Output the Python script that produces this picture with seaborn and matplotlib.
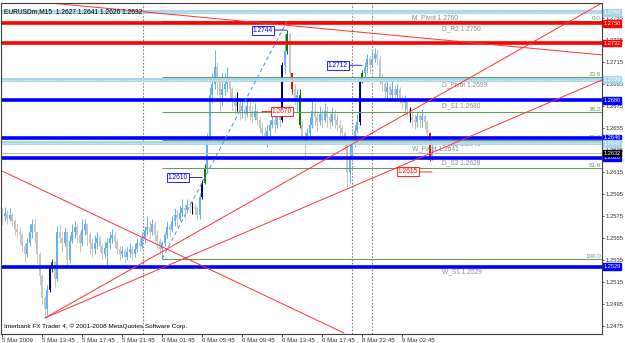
import matplotlib
matplotlib.use("Agg")
import matplotlib.pyplot as plt
import seaborn as sns
import pandas as pd

# ---------------- data (prices in pips above 1.2400) ----------------
first_open = 176
closes = [175,178,172,176,170,163,160,158,148,140,
          150,160,168,160,140,120,100,90,108,128,
          133,118,160,155,150,160,135,152,160,165,
          158,150,162,168,158,150,145,150,155,148,
          140,146,150,155,158,152,145,140,143,138,
          142,145,140,145,150,148,155,162,165,160,
          168,158,152,145,150,158,165,162,170,176,
          172,178,182,180,185,184,183,182,176,192,
          205,218,245,285,295,310,300,285,290,295,
          300,290,280,275,278,270,272,268,275,270,
          265,270,262,255,250,248,252,258,262,258,
          265,262,312,325,340,305,290,282,285,258,
          245,242,250,258,270,265,260,268,262,270,
          265,260,268,262,258,255,250,240,215,228,
          240,252,260,298,305,310,318,312,318,322,
          318,300,295,288,292,285,290,285,290,282,
          278,280,272,265,262,260,266,262,266,260,
          250,227,232]
highs = [182,183,180,182,178,172,168,165,160,150,
         155,168,172,172,160,142,122,102,112,130,
         136,134,166,168,160,165,160,158,168,170,
         168,160,172,172,168,160,155,158,160,158,
         150,152,155,160,163,160,155,148,148,146,
         147,150,148,150,155,156,160,166,175,170,
         172,170,162,155,152,160,170,168,175,182,
         180,184,190,186,190,189,188,186,184,196,
         208,222,250,292,305,326,315,300,305,305,
         310,302,292,285,288,282,280,276,282,280,
         275,278,272,265,260,256,258,262,270,268,
         272,270,315,340,344,342,305,295,290,290,
         262,252,255,265,282,278,270,275,272,278,
         275,270,274,272,268,262,258,252,242,240,
         248,258,268,300,308,315,322,320,325,328,
         326,320,305,300,298,296,298,294,295,292,
         285,285,282,274,270,268,270,268,272,268,
         262,250,241]
lows = [168,170,168,170,166,158,154,150,142,133,
        138,148,155,150,132,112,95,82,85,106,
        124,110,116,150,142,148,128,132,150,155,
        150,142,148,158,148,140,138,140,145,142,
        135,138,128,145,150,146,140,135,137,132,
        135,138,136,138,142,143,146,150,158,155,
        158,150,145,140,136,148,155,156,160,166,
        165,170,175,172,178,178,177,176,172,172,
        190,204,216,240,278,290,285,270,275,285,
        288,280,270,268,270,262,264,262,265,262,
        260,262,258,250,245,240,238,245,255,250,
        255,256,260,305,322,300,286,276,270,255,
        240,226,240,248,255,258,252,258,255,260,
        256,254,257,255,252,248,244,235,200,205,
        225,238,250,258,296,300,305,305,310,315,
        312,295,288,282,282,280,282,280,282,278,
        272,270,266,260,256,254,256,255,256,254,
        246,225,226]

navy_bars = [19, 80, 112, 143]
green_bars = [20, 81, 114, 119, 144]
red_bars = [116, 171]
black_bars = [76, 94, 163]

x_tick_bars = [0, 16, 32, 48, 64, 80, 96, 112, 128, 144, 160]
x_tick_labels = ["5 Mar 2009", "5 Mar 13:45", "5 Mar 17:45", "5 Mar 21:45",
                 "6 Mar 01:45", "6 Mar 05:45", "6 Mar 09:45", "6 Mar 13:45",
                 "6 Mar 17:45", "8 Mar 22:45", "9 Mar 02:45"]
y_ticks = [1.2475, 1.2495, 1.2515, 1.2535, 1.2555, 1.2575, 1.2595, 1.2615,
           1.2635, 1.2655, 1.2675, 1.2695, 1.2715, 1.2735, 1.2755]
separators = [56.5, 140, 148]

level_names = ["M_Pivot", "D_R2", "", "D_Pivot", "D_S1", "D_S2", "W_Pivot", "D_S3", "W_S1"]
level_prices = [1.2760, 1.2750, 1.2732, 1.2699, 1.2680, 1.2646, 1.2641, 1.2628, 1.2529]
level_kinds = ["pivot", "res", "res", "pivot", "sup", "sup", "pivot", "sup", "sup"]
level_label_bar = [164, 176, 176, 176, 176, 176, 164, 176, 176]

fib_levels = [0.0, 23.6, 38.2, 50.0, 61.8, 100.0]
fib_top = 1.2752
fib_start_bar = 64

# red trend lines: (bar0, price0, bar1, price1)
trend_lines = [(19.2, 1.27686, 240, 1.27214),
               (-0.8, 1.26168, 136.8, 1.24686),
               (17.2, 1.24823, 240, 1.27686),
               (17.2, 1.24823, 240, 1.26986)]
dash_line = (64, 114)

mark_bars = [114, 144, 104, 80, 172]
mark_prices = [1.2744, 1.2712, 1.2670, 1.2610, 1.2615]
mark_colors = ["#0000FF", "#0000FF", "#FF0000", "#0000FF", "#FF0000"]
mark_side = ["left", "left", "right", "left", "left"]

bid_price = 1.2632
title = "EURUSDm,M15  1.2627 1.2641 1.2626 1.2632"
footer = "Interbank FX Trader 4, \u00a9 2001-2008 MetaQuotes Software Corp."

# ---------------- build frame ----------------
n = len(closes)
opens = [first_open] + closes[:-1]
df = pd.DataFrame({"bar": range(n),
                   "open": [1.24 + v / 10000 for v in opens],
                   "high": [1.24 + v / 10000 for v in highs],
                   "low": [1.24 + v / 10000 for v in lows],
                   "close": [1.24 + v / 10000 for v in closes]})

def bar_color(i, o, c):
    if i in navy_bars:
        return "#00007F"
    if i in green_bars:
        return "#007F00"
    if i in red_bars:
        return "#FF0000"
    return "#62B0F7" if c >= o else "#C4C4C4"

df["color"] = [bar_color(i, o, c) for i, o, c in zip(df.bar, df.open, df.close)]

sns.set_theme(style="white")
plt.rcParams['font.family'] = ['Liberation Sans', 'DejaVu Sans']

fig = plt.figure(figsize=(6.25, 3.43), dpi=100)
ax = fig.add_axes([1 / 625, 9 / 343, 601 / 625, 331 / 343])
ax.set_xlim(-0.4, 240)
ax.set_ylim(1.24677, 1.27686)

# candles
wlo = df[["low", "open", "close"]].min(axis=1)
whi = df[["high", "open", "close"]].max(axis=1)
ax.vlines(df.bar, wlo, whi, colors=df.color, lw=0.7, zorder=1)
ax.vlines(df.bar, df[["open", "close"]].min(axis=1), df[["open", "close"]].max(axis=1),
          colors=df.color, lw=1.4, zorder=1)
for i in black_bars:
    ax.vlines(i, df.low[i], df.high[i], colors="#000000", lw=0.7, zorder=1.2)

# separators
for s in separators:
    ax.axvline(s, color="#808080", lw=0.8, ls=(0, (1.5, 1.5)), zorder=0.8)

# fib levels
fib_bottom = df.low[fib_start_bar]
for f in fib_levels:
    p = fib_top - (fib_top - fib_bottom) * f / 100
    ax.hlines(p, fib_start_bar, 240, color="#5E9A5E", lw=0.7, zorder=1.5)
    ax.text(0.998, p, f"{f:.1f}", transform=ax.get_yaxis_transform(), ha="right", va="bottom",
            fontsize=4.5, color="#5E9A5E", zorder=1.6)

# bid line
ax.axhline(bid_price, color="#B8B8B8", lw=0.7, zorder=1.4)

kind_color = {"pivot": "#A8D4EA", "res": "#FF0000", "sup": "#0000FF"}
for name, p, k, lb in zip(level_names, level_prices, level_kinds, level_label_bar):
    c = kind_color[k]
    ax.axhline(p, color=c, lw=2.6 if k != "pivot" else 2.8, zorder=2)
    if k == "pivot":
        ax.axhline(p, color="white", lw=0.5, ls=(0, (1, 1.5)), zorder=2.05)
    if name:
        ax.annotate(f"{name} {p:.4f}", xy=(lb, p), xytext=(0, -1.5), textcoords="offset points",
                    ha="left", va="top", fontsize=4.8, color="#8C8C8C", zorder=1.8)
    ax.text(1.002, p, f"{p:.4f}", transform=ax.get_yaxis_transform(), ha="left", va="center",
            fontsize=4.1, color="white", clip_on=False, zorder=5,
            bbox=dict(boxstyle="square,pad=0.12", fc=c, ec=c))
ax.text(1.002, bid_price, f"{bid_price:.4f}", transform=ax.get_yaxis_transform(), ha="left",
        va="center", fontsize=4.1, color="white", clip_on=False, zorder=5.5,
        bbox=dict(boxstyle="square,pad=0.12", fc="black", ec="black"))

# trend lines
for b0, p0, b1, p1 in trend_lines:
    ax.plot([b0, b1], [p0, p1], color="#FF3030", lw=0.7, zorder=2.5)

# dashed line from low to high (via seaborn)
d0, d1 = dash_line
dl = pd.DataFrame({"bar": [d0, d1], "price": [df.low[d0], fib_top]})
sns.lineplot(data=dl, x="bar", y="price", ax=ax, color="#4F8FE0", lw=0.7,
             linestyle=(0, (4, 3)), zorder=2.4)

# price markers
for b, p, c, side in zip(mark_bars, mark_prices, mark_colors, mark_side):
    off = -14 if side == "left" else 10
    ax.annotate(f"{p:.4f}", xy=(b, p), xytext=(off, 0), textcoords="offset pixels",
                ha="right" if side == "left" else "left", va="center", fontsize=4.8, color=c,
                zorder=4, bbox=dict(boxstyle="square,pad=0.15", fc="white", ec=c, lw=0.6),
                arrowprops=dict(arrowstyle="-", color=c, lw=0.6, shrinkA=0, shrinkB=0))

# axes styling
ax.set_xlabel("")
ax.set_ylabel("")
ax.yaxis.tick_right()
ax.set_yticks(y_ticks)
ax.set_yticklabels([f"{t:.4f}" for t in y_ticks])
ax.set_xticks(x_tick_bars)
ax.set_xticklabels(x_tick_labels, ha="left")
ax.tick_params(axis="y", right=True, left=False, length=1.5, width=0.6, pad=1,
               labelsize=4.2, colors="#303030")
ax.tick_params(axis="x", bottom=True, length=2, width=0.6, pad=1, labelsize=4.4,
               colors="#303030")
for s in ax.spines.values():
    s.set_color("#404040")
    s.set_linewidth(0.8)

ax.text(0.005, 0.985, title, transform=ax.transAxes, ha="left", va="top", fontsize=4.8,
        color="black", zorder=6)
ax.text(0.005, 0.025, footer, transform=ax.transAxes, ha="left", va="center", fontsize=4.6,
        color="black", zorder=6)

fig.savefig("out.png", dpi=100)
